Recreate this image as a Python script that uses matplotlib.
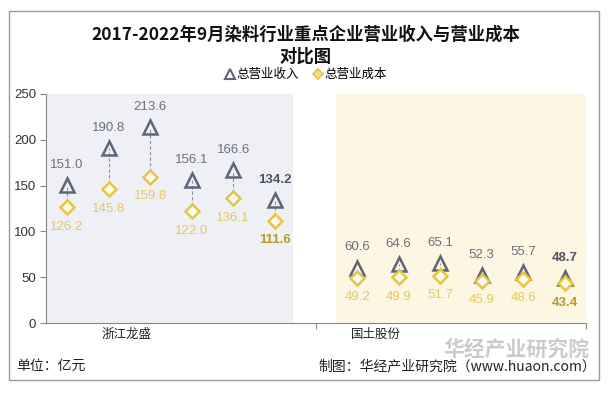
import matplotlib.pyplot as plt
from matplotlib.lines import Line2D
from matplotlib.patches import Rectangle

plt.rcParams["font.family"] = ["Noto Sans CJK SC", "DejaVu Sans"]

# 数据（单位：亿元），2017-2022年9月
companies = ["浙江龙盛", "国土股份"]
years = ["2017", "2018", "2019", "2020", "2021", "2022.9"]
revenue_longsheng = [151.0, 190.8, 213.6, 156.1, 166.6, 134.2]
cost_longsheng = [126.2, 145.8, 159.8, 122.0, 136.1, 111.6]
revenue_runtu = [60.6, 64.6, 65.1, 52.3, 55.7, 48.7]
cost_runtu = [49.2, 49.9, 51.7, 45.9, 48.6, 43.4]

REV_COLOR = "#5f6578"
COST_COLOR = "#e6c443"
REV_LABEL = "#6b7080"
COST_LABEL = "#e3c862"
NUM_FONT = ["Liberation Sans", "DejaVu Sans"]

fig = plt.figure(figsize=(6.11, 3.93), dpi=100)
ax = fig.add_axes([0.0753, 0.178, 0.884, 0.583])

# group layout: each category spans 1 unit, points spread inside
group_start = [-0.422, 0.652]
step = 0.1537

ax.add_patch(Rectangle((-0.496, 0), 0.911, 250, color="#eff0f5", zorder=0, lw=0))
ax.add_patch(Rectangle((0.574, 0), 0.926, 250, color="#fdf6e2", zorder=0, lw=0))

groups = [(revenue_longsheng, cost_longsheng), (revenue_runtu, cost_runtu)]
for g, (rev, cost) in enumerate(groups):
    xs = [group_start[g] + i * step for i in range(len(years))]
    for i, x in enumerate(xs):
        ax.plot([x, x], [cost[i], rev[i]], color="#8a8f9c", lw=0.8,
                ls=(0, (3, 2)), zorder=1)
        last = i == len(xs) - 1
        ax.annotate(f"{rev[i]:.1f}", (x, rev[i]), xytext=(0, 14.5),
                    textcoords="offset points", ha="center", va="center",
                    fontsize=9.5, color="#4f5462" if last else REV_LABEL,
                    fontweight="bold" if last else "normal", family=NUM_FONT)
        ax.annotate(f"{cost[i]:.1f}", (x, cost[i]), xytext=(0, -14),
                    textcoords="offset points", ha="center", va="center",
                    fontsize=9.5, color="#b89a22" if last else COST_LABEL,
                    fontweight="bold" if last else "normal", family=NUM_FONT)
    ax.plot(xs, rev, ls="none", marker="^", ms=10, mfc="none",
            mec=REV_COLOR, mew=1.8, zorder=3)
    ax.plot(xs, cost, ls="none", marker="D", ms=7.5, mfc="#fffaf0",
            mec=COST_COLOR, mew=1.8, zorder=4)

ax.set_xlim(-0.5, 1.5)
ax.set_ylim(0, 250)
ax.set_yticks([0, 50, 100, 150, 200, 250])
ax.set_xticks([0.5, 1.5])
ax.set_xticklabels([])
ax.tick_params(axis="y", labelsize=9.5, length=4, color="#888888",
               labelcolor="#333333", pad=3)
for lbl in ax.get_yticklabels():
    lbl.set_family(NUM_FONT)
ax.tick_params(axis="x", length=4, color="#888888", direction="out")
for s in ["top", "right"]:
    ax.spines[s].set_visible(False)
for s in ["left", "bottom"]:
    ax.spines[s].set_color("#888888")
    ax.spines[s].set_linewidth(0.8)
ax.patch.set_alpha(0)

# category labels
ax.text(-0.2, -0.05, companies[0], transform=ax.get_xaxis_transform(),
        ha="center", va="center", fontsize=9, color="#222222")
ax.text(0.722, -0.05, companies[1], transform=ax.get_xaxis_transform(),
        ha="center", va="center", fontsize=9, color="#222222")

# title
fig.text(0.5, 0.912, "2017-2022年9月染料行业重点企业营业收入与营业成本",
         ha="center", va="center", fontsize=12.5, fontweight="bold",
         color="#111111")
fig.text(0.5, 0.855, "对比图", ha="center", va="center", fontsize=12.5,
         fontweight="bold", color="#111111")

handles = [
    Line2D([], [], ls="none", marker="^", ms=7, mfc="none", mec=REV_COLOR, mew=1.5),
    Line2D([], [], ls="none", marker="D", ms=5.5, mfc="#f6df86", mec=COST_COLOR, mew=1.2),
]
fig.legend(handles, ["总营业收入", "总营业成本"], loc="center",
           bbox_to_anchor=(0.5, 0.81), ncol=2, frameon=False, fontsize=9,
           handletextpad=0.05, columnspacing=1.0, handlelength=1.0)

# footer
fig.text(0.026, 0.068, "单位：亿元", ha="left", va="center", fontsize=10,
         color="#222222")
fig.text(0.975, 0.068, "制图：华经产业研究院（www.huaon.com）", ha="right",
         va="center", fontsize=10, color="#222222")
fig.text(0.965, 0.112, "华经产业研究院", ha="right", va="center",
         fontsize=15, fontweight="bold", color="#999999", alpha=0.5)

# outer frame
fig.add_artist(Rectangle((0.015, 0.033), 0.965, 0.94, transform=fig.transFigure,
                         fill=False, ec="#999999", lw=1.0))

fig.savefig("out.png", dpi=100)
